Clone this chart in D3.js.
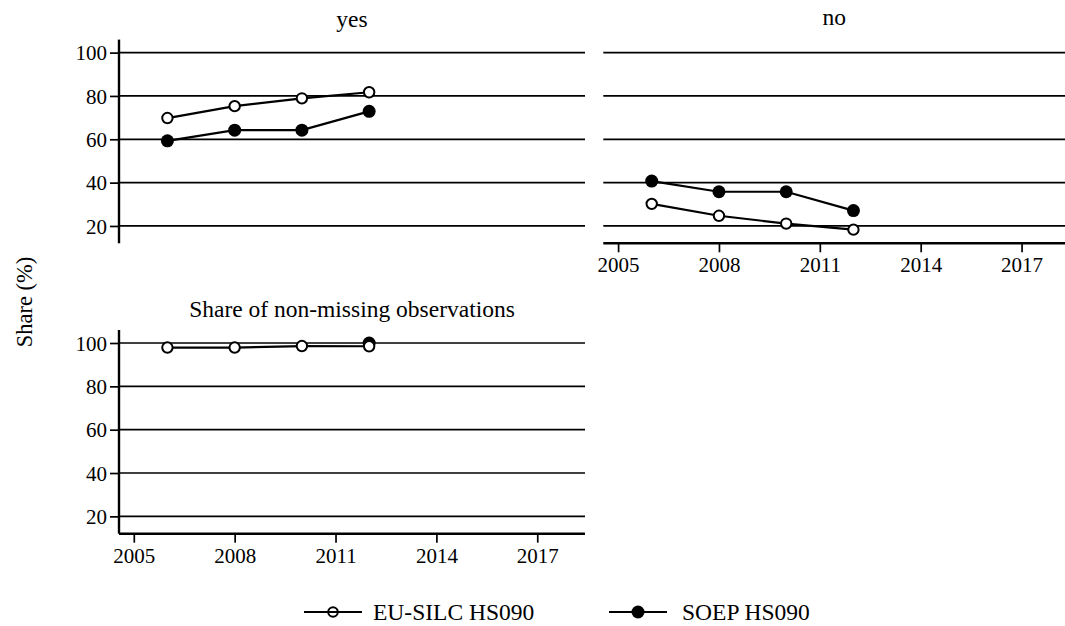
<!DOCTYPE html>
<html>
<head>
<meta charset="utf-8">
<script src="https://cdn.jsdelivr.net/npm/d3@7"></script>
<style>
  html, body { margin: 0; padding: 0; background: #fff; }
  svg { display: block; }
  svg text { font-family: "Liberation Serif", "Times New Roman", serif !important; fill: #000; }
</style>
</head>
<body>
<svg id="chart" width="1065" height="626"></svg>
<script>
// ---- data ----
const years = [2006, 2008, 2010, 2012];
const yearTicks = [2005, 2008, 2011, 2014, 2017];
const yTicks = [20, 40, 60, 80, 100];
const panelTitles = ["yes", "no", "Share of non-missing observations"];
const seriesNames = ["EU-SILC HS090", "SOEP HS090"];
const euYes = [69.8, 75.3, 78.9, 81.7];
const soepYes = [59.3, 64.2, 64.2, 72.9];
const euNo = [30.2, 24.7, 21.1, 18.3];
const soepNo = [40.7, 35.8, 35.8, 27.1];
const euNonMissing = [97.9, 97.9, 98.6, 98.5];
const soepNonMissing = [null, null, null, 100];

const svg = d3.select("#chart");
const xDomain = [2004.56, 2018.42];
const yDomain = [12, 106];

const panels = [
  { title: panelTitles[0], x0: 119, x1: 585, yTop: 39.6, yBot: 243.3, eu: euYes, soep: soepYes, yAxis: true, xAxis: false, titleY: 27 },
  { title: panelTitles[1], x0: 603.3, x1: 1069.3, yTop: 39.6, yBot: 243.3, eu: euNo, soep: soepNo, yAxis: false, xAxis: true, titleY: 25 },
  { title: panelTitles[2], x0: 119, x1: 585, yTop: 330.0, yBot: 533.7, eu: euNonMissing, soep: soepNonMissing, yAxis: true, xAxis: true, titleY: 317 }
];

panels.forEach(p => {
  const x = d3.scaleLinear().domain(xDomain).range([p.x0, p.x1]);
  const y = d3.scaleLinear().domain(yDomain).range([p.yBot, p.yTop]);
  const g = svg.append("g");

  // gridlines
  g.selectAll("line.grid").data(yTicks).enter().append("line")
    .attr("x1", p.x0).attr("x2", p.x1)
    .attr("y1", d => y(d)).attr("y2", d => y(d))
    .attr("stroke", "#000").attr("stroke-width", 1.7);

  if (p.yAxis) {
    const ya = d3.axisLeft(y).tickValues(yTicks).tickSize(9).tickPadding(3).tickFormat(d3.format("d"));
    const ag = g.append("g").attr("transform", `translate(${p.x0},0)`).call(ya)
      .attr("font-family", null).attr("font-size", 21);
    ag.select(".domain").remove();
    ag.selectAll(".tick line").attr("stroke", "#000").attr("stroke-width", 1.7);
    ag.selectAll(".tick text").attr("font-size", 21).attr("fill", "#000").attr("dy", "0.34em");
    g.append("line").attr("x1", p.x0).attr("x2", p.x0).attr("y1", p.yTop).attr("y2", p.yBot)
      .attr("stroke", "#000").attr("stroke-width", 2.4);
  }
  if (p.xAxis) {
    const xa = d3.axisBottom(x).tickValues(yearTicks).tickSize(9).tickPadding(5).tickFormat(d3.format("d"));
    const ag = g.append("g").attr("transform", `translate(0,${p.yBot})`).call(xa)
      .attr("font-family", null).attr("font-size", 21);
    ag.select(".domain").remove();
    ag.selectAll(".tick line").attr("stroke", "#000").attr("stroke-width", 1.7);
    ag.selectAll(".tick text").attr("font-size", 21).attr("fill", "#000");
    g.append("line").attr("x1", p.x0).attr("x2", p.x1).attr("y1", p.yBot).attr("y2", p.yBot)
      .attr("stroke", "#000").attr("stroke-width", 2.4);
  }

  // title
  g.append("text").attr("x", (p.x0 + Math.min(p.x1, 1065)) / 2).attr("y", p.titleY)
    .attr("text-anchor", "middle").attr("font-size", 23.5).text(p.title);

  const line = d3.line().defined(d => d.v != null).x(d => x(d.yr)).y(d => y(d.v));
  const euData = years.map((yr, i) => ({ yr, v: p.eu[i] }));
  const soepData = years.map((yr, i) => ({ yr, v: p.soep[i] }));

  // lines
  g.append("path").datum(euData).attr("d", line).attr("fill", "none").attr("stroke", "#000").attr("stroke-width", 2.2);
  g.append("path").datum(soepData).attr("d", line).attr("fill", "none").attr("stroke", "#000").attr("stroke-width", 2.2);

  // markers
  g.selectAll("circle.soep").data(soepData.filter(d => d.v != null)).enter().append("circle")
    .attr("cx", d => x(d.yr)).attr("cy", d => y(d.v)).attr("r", 6.5).attr("fill", "#000");
  g.selectAll("circle.eu").data(euData.filter(d => d.v != null)).enter().append("circle")
    .attr("cx", d => x(d.yr)).attr("cy", d => y(d.v)).attr("r", 5.2)
    .attr("fill", "#fff").attr("stroke", "#000").attr("stroke-width", 2);
});

// y-axis title
svg.append("text").attr("transform", "translate(32,302) rotate(-90)")
  .attr("text-anchor", "middle").attr("font-size", 22.5).text("Share (%)");

// legend
const legY = 612;
const leg = svg.append("g");
const legItems = [
  { name: seriesNames[0], lx: 304, tx: 373, filled: false },
  { name: seriesNames[1], lx: 609, tx: 682, filled: true }
];
legItems.forEach(it => {
  leg.append("line").attr("x1", it.lx).attr("x2", it.lx + 58).attr("y1", legY).attr("y2", legY)
    .attr("stroke", "#000").attr("stroke-width", 2.2);
  if (it.filled) {
    leg.append("circle").attr("cx", it.lx + 29).attr("cy", legY).attr("r", 6.5).attr("fill", "#000");
  } else {
    leg.append("circle").attr("cx", it.lx + 29).attr("cy", legY).attr("r", 4.8)
      .attr("fill", "none").attr("stroke", "#000").attr("stroke-width", 2);
  }
  leg.append("text").attr("x", it.tx).attr("y", legY + 8).attr("font-size", 23.5).text(it.name);
});
</script>
</body>
</html>
